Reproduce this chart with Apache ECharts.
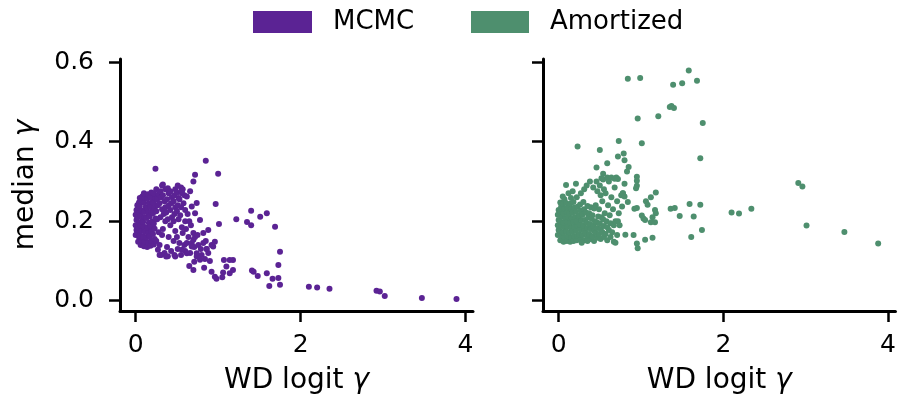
<!DOCTYPE html>
<html>
<head>
<meta charset="utf-8">
<script src="https://cdn.jsdelivr.net/npm/echarts@6/dist/echarts.min.js"></script>
<style>
html,body{margin:0;padding:0;background:#fff;}
#chart{width:899px;height:401px;}
</style>
</head>
<body>
<div id="chart"></div>
<script>
const seriesNames = ['MCMC', 'Amortized'];
const xTicks = [0, 2, 4];
const yTicks = [0, 0.2, 0.4, 0.6];
const xLabel = 'WD logit {g|γ}';
const yLabel = 'median {g|γ}';

// MCMC panel: [WD logit γ, median γ]
const mcmcPoints = [
  [0.00,0.165],[0.01,0.178],[0.00,0.19],[0.01,0.203],[0.00,0.216],[0.01,0.228],[0.02,0.24],
  [0.03,0.148],[0.04,0.16],[0.02,0.172],[0.03,0.185],[0.04,0.197],[0.02,0.21],[0.04,0.222],[0.03,0.235],[0.04,0.247],[0.05,0.258],
  [0.06,0.14],[0.07,0.152],[0.05,0.164],[0.07,0.176],[0.06,0.189],[0.08,0.201],[0.06,0.213],[0.07,0.226],[0.05,0.238],[0.07,0.25],[0.08,0.262],
  [0.10,0.137],[0.11,0.149],[0.09,0.161],[0.11,0.173],[0.10,0.186],[0.09,0.198],[0.11,0.21],[0.10,0.223],[0.12,0.235],[0.10,0.247],[0.11,0.259],[0.10,0.27],
  [0.14,0.135],[0.15,0.147],[0.13,0.159],[0.15,0.171],[0.14,0.184],[0.16,0.196],[0.13,0.208],[0.15,0.221],[0.14,0.233],[0.16,0.245],[0.14,0.257],[0.15,0.268],
  [0.18,0.138],[0.19,0.15],[0.17,0.162],[0.19,0.175],[0.18,0.187],[0.20,0.199],[0.17,0.212],[0.19,0.224],[0.18,0.236],[0.20,0.249],[0.18,0.261],[0.19,0.272],
  [0.22,0.141],[0.23,0.155],[0.21,0.168],[0.23,0.181],[0.22,0.194],[0.24,0.207],[0.21,0.22],[0.23,0.233],[0.22,0.246],[0.24,0.259],[0.22,0.27],
  [0.27,0.128],[0.25,0.15],[0.28,0.172],[0.26,0.205],[0.25,0.225],[0.27,0.24],[0.26,0.255],[0.28,0.268],[0.25,0.28],
  [0.31,0.115],[0.29,0.14],[0.32,0.165],[0.30,0.21],[0.32,0.23],[0.29,0.245],[0.31,0.26],[0.30,0.275],[0.32,0.29],
  [0.35,0.12],[0.33,0.18],[0.36,0.20],[0.34,0.218],[0.36,0.235],[0.35,0.25],[0.33,0.265],[0.36,0.28],
  [0.39,0.112],[0.38,0.135],[0.40,0.16],[0.39,0.205],[0.37,0.222],[0.40,0.24],[0.38,0.255],[0.40,0.27],[0.39,0.283],
  [0.43,0.125],[0.42,0.19],[0.44,0.21],[0.42,0.228],[0.43,0.245],[0.44,0.26],[0.42,0.275],
  [0.47,0.115],[0.46,0.15],[0.48,0.175],[0.46,0.20],[0.47,0.218],[0.48,0.235],[0.46,0.25],[0.47,0.265],[0.48,0.28],
  [0.51,0.13],[0.50,0.16],[0.52,0.205],[0.50,0.225],[0.51,0.24],[0.52,0.258],[0.50,0.272],[0.51,0.29],
  [0.55,0.115],[0.53,0.145],[0.56,0.185],[0.54,0.215],[0.55,0.235],[0.53,0.255],[0.56,0.27],[0.55,0.285],
  [0.59,0.14],[0.57,0.17],[0.60,0.20],[0.58,0.245],[0.59,0.265],[0.57,0.28],
  [0.61,0.18],[0.62,0.145],[0.64,0.16],[0.60,0.125],[0.65,0.20],[0.63,0.218],
  [0.67,0.19],[0.70,0.17],[0.72,0.16],[0.68,0.145],[0.66,0.12],[0.71,0.135],[0.75,0.165],[0.76,0.14],[0.79,0.13],
  [0.80,0.115],[0.82,0.145],[0.85,0.15],[0.86,0.13],[0.84,0.105],[0.90,0.10],[0.92,0.14],[0.88,0.12],
  [0.24,0.332],[0.85,0.352],[0.72,0.317],[1.00,0.319],[0.70,0.30],[0.97,0.243],[0.74,0.246],[1.01,0.193],
  [1.22,0.205],[1.40,0.226],[1.35,0.198],[1.40,0.19],[1.51,0.211],[1.59,0.22],[1.69,0.186],[1.75,0.123],
  [1.73,0.09],[1.73,0.057],[1.75,0.04],[1.66,0.055],[1.62,0.037],[1.59,0.069],[1.41,0.076],[1.43,0.073],[1.48,0.062],
  [2.10,0.035],[2.20,0.033],[2.35,0.03],[2.92,0.025],[2.96,0.023],[3.02,0.012],[3.47,0.007],[3.89,0.004],
  [1.18,0.102],[1.14,0.102],[1.07,0.102],[1.10,0.086],[1.18,0.077],[1.14,0.069],[1.06,0.071],[0.96,0.06],[0.98,0.055],
  [1.05,0.059],[0.92,0.073],[0.83,0.083],[0.70,0.077],[0.65,0.087],[0.71,0.098],[0.74,0.111],[0.78,0.103],[0.86,0.13],
  [0.94,0.136],[0.96,0.148],[0.88,0.178],[0.82,0.17],[0.78,0.203],[0.60,0.228],[0.62,0.262],[0.56,0.275],
  [0.66,0.275],[0.33,0.292],[0.68,0.237],[0.72,0.22],[0.70,0.153],[0.68,0.136],[0.74,0.119],
  [0.62,0.119],[0.56,0.128],[0.48,0.111],[0.37,0.111],[0.29,0.115]
];

// Amortized panel: [WD logit γ, median γ]
const amortizedPoints = [
  [-0.01,0.165],[0.00,0.178],[-0.01,0.19],[0.00,0.203],[-0.01,0.216],[0.00,0.228],
  [0.02,0.152],[0.03,0.164],[0.01,0.176],[0.03,0.188],[0.02,0.20],[0.04,0.212],[0.02,0.224],[0.03,0.236],[0.02,0.247],
  [0.06,0.148],[0.07,0.16],[0.05,0.172],[0.07,0.184],[0.06,0.196],[0.08,0.208],[0.06,0.22],[0.07,0.232],[0.05,0.244],[0.07,0.255],
  [0.10,0.15],[0.11,0.162],[0.09,0.174],[0.11,0.186],[0.10,0.198],[0.12,0.21],[0.10,0.222],[0.11,0.234],[0.09,0.246],
  [0.14,0.148],[0.15,0.16],[0.13,0.172],[0.15,0.184],[0.14,0.196],[0.16,0.208],[0.13,0.22],[0.15,0.232],[0.14,0.244],[0.15,0.258],
  [0.18,0.15],[0.19,0.162],[0.17,0.174],[0.19,0.186],[0.18,0.198],[0.20,0.21],[0.17,0.222],[0.19,0.234],[0.18,0.248],
  [0.22,0.152],[0.23,0.164],[0.21,0.176],[0.23,0.188],[0.22,0.20],[0.24,0.212],[0.21,0.224],[0.23,0.236],[0.22,0.26],
  [0.27,0.155],[0.25,0.167],[0.27,0.179],[0.26,0.191],[0.28,0.203],[0.25,0.215],[0.27,0.227],[0.26,0.242],[0.27,0.27],
  [0.31,0.152],[0.29,0.165],[0.31,0.178],[0.30,0.19],[0.32,0.203],[0.29,0.216],[0.31,0.23],[0.30,0.248],[0.31,0.28],
  [0.35,0.158],[0.33,0.17],[0.35,0.183],[0.34,0.196],[0.36,0.21],[0.33,0.222],[0.35,0.238],[0.34,0.29],
  [0.39,0.155],[0.37,0.168],[0.39,0.18],[0.38,0.193],[0.40,0.206],[0.37,0.22],[0.39,0.235],[0.38,0.30],
  [0.43,0.15],[0.41,0.162],[0.43,0.175],[0.42,0.188],[0.44,0.20],[0.41,0.215],[0.43,0.232],[0.42,0.285],
  [0.47,0.158],[0.45,0.17],[0.47,0.183],[0.46,0.197],[0.48,0.212],[0.45,0.24],[0.47,0.275],[0.46,0.30],
  [0.51,0.155],[0.49,0.168],[0.51,0.18],[0.50,0.195],[0.52,0.21],[0.49,0.23],[0.51,0.265],[0.50,0.29],[0.52,0.308],
  [0.55,0.16],[0.53,0.173],[0.55,0.188],[0.54,0.205],[0.56,0.22],[0.53,0.25],[0.55,0.28],[0.54,0.305],
  [0.59,0.152],[0.57,0.168],[0.59,0.185],[0.58,0.20],[0.60,0.24],[0.57,0.27],[0.59,0.31],
  [0.63,0.16],[0.61,0.178],[0.63,0.195],[0.62,0.215],[0.64,0.26],[0.61,0.30],
  [0.67,0.148],[0.65,0.172],[0.67,0.19],[0.66,0.23],[0.68,0.285],
  [0.71,0.165],[0.69,0.20],[0.71,0.25],[0.70,0.31],
  [0.09,0.291],[0.21,0.294],[0.12,0.27],[0.05,0.262],[0.17,0.275],
  [0.72,0.20],[0.73,0.22],[0.74,0.19],[0.76,0.265],[0.78,0.27],
  [1.58,0.579],[0.84,0.558],[0.99,0.56],[1.39,0.543],[1.50,0.547],[1.68,0.553],[1.35,0.487],[1.37,0.49],[1.40,0.485],
  [1.21,0.464],[0.96,0.458],[1.75,0.447],[0.73,0.402],[1.01,0.396],[0.23,0.388],[0.50,0.379],[0.79,0.37],[0.72,0.363],
  [0.80,0.353],[1.72,0.358],[0.59,0.346],[0.85,0.336],[0.83,0.325],[0.46,0.335],[0.54,0.319],[0.95,0.312],[0.95,0.302],
  [0.95,0.289],[0.94,0.283],[0.72,0.306],[0.64,0.31],[0.68,0.307],[0.80,0.294],[0.78,0.27],[0.80,0.262],
  [2.91,0.296],[2.96,0.287],[1.18,0.272],[1.12,0.26],[1.06,0.25],[1.08,0.241],[0.84,0.248],[0.77,0.237],[0.92,0.231],
  [0.95,0.233],[1.36,0.231],[1.41,0.233],[1.59,0.243],[1.72,0.241],[2.10,0.222],[2.19,0.219],[2.34,0.231],[1.18,0.22],
  [1.17,0.228],[1.01,0.214],[1.03,0.207],[1.05,0.203],[1.14,0.21],[1.12,0.197],[1.17,0.197],[1.47,0.213],[1.64,0.212],
  [3.01,0.189],[1.74,0.178],[3.47,0.173],[3.88,0.144],[1.61,0.16],[0.81,0.166],[0.91,0.165],[1.05,0.153],[1.14,0.158],
  [0.95,0.144],[0.96,0.132],[0.28,0.146],[0.35,0.15],[0.69,0.146]
];

const purple = '#5b2394';
const green = '#4e8f6e';
const font = 'DejaVu Sans';
const nameStyle = {
  fontFamily: font, fontSize: 28, color: '#000',
  rich: {g: {fontFamily: font, fontSize: 28, fontStyle: 'italic', color: '#000'}}
};

function xAxisCfg(idx) {
  return {
    type: 'value', gridIndex: idx, min: -0.19, max: 4.09,
    name: xLabel, nameLocation: 'middle', nameGap: 56,
    nameTextStyle: nameStyle,
    axisLine: {show: true, onZero: false, lineStyle: {color: '#000', width: 3}},
    axisTick: {show: true, inside: false, length: 11, customValues: xTicks, lineStyle: {color: '#000', width: 2.5}},
    axisLabel: {show: true, margin: 22, customValues: xTicks, fontFamily: font, fontSize: 25, color: '#000',
      formatter: v => String(v)},
    splitLine: {show: false}
  };
}
function yAxisCfg(idx, showLabel) {
  return {
    type: 'value', gridIndex: idx, min: -0.026, max: 0.608,
    name: showLabel ? yLabel : '', nameLocation: 'middle', nameGap: 80,
    nameTextStyle: nameStyle,
    axisLine: {show: true, onZero: false, lineStyle: {color: '#000', width: 3}},
    axisTick: {show: true, inside: false, length: 11, customValues: yTicks, lineStyle: {color: '#000', width: 2.5}},
    axisLabel: {show: showLabel, margin: 26, customValues: yTicks, fontFamily: font, fontSize: 25, color: '#000',
      formatter: v => v.toFixed(1)},
    splitLine: {show: false}
  };
}

const chart = echarts.init(document.getElementById('chart'), null, {renderer: 'canvas'});
chart.setOption({
  animation: false,
  backgroundColor: '#fff',
  legend: [
    {data: [seriesNames[0]], left: 253, top: 9, padding: 0, icon: 'rect', itemWidth: 59, itemHeight: 22,
     textStyle: {fontFamily: font, fontSize: 26, color: '#000', padding: [6, 0, 0, 16]}},
    {data: [seriesNames[1]], left: 471, top: 9, padding: 0, icon: 'rect', itemWidth: 58, itemHeight: 22,
     textStyle: {fontFamily: font, fontSize: 26, color: '#000', padding: [6, 0, 0, 16]}}
  ],
  grid: [
    {left: 120, top: 59, width: 353, height: 252, containLabel: false},
    {left: 543, top: 59, width: 353, height: 252, containLabel: false}
  ],
  xAxis: [xAxisCfg(0), xAxisCfg(1)],
  yAxis: [yAxisCfg(0, true), yAxisCfg(1, false)],
  series: [
    {name: seriesNames[0], type: 'scatter', xAxisIndex: 0, yAxisIndex: 0, data: mcmcPoints,
     symbolSize: 6, itemStyle: {color: purple, opacity: 1}},
    {name: seriesNames[1], type: 'scatter', xAxisIndex: 1, yAxisIndex: 1, data: amortizedPoints,
     symbolSize: 6, itemStyle: {color: green, opacity: 1}}
  ]
});
</script>
</body>
</html>
